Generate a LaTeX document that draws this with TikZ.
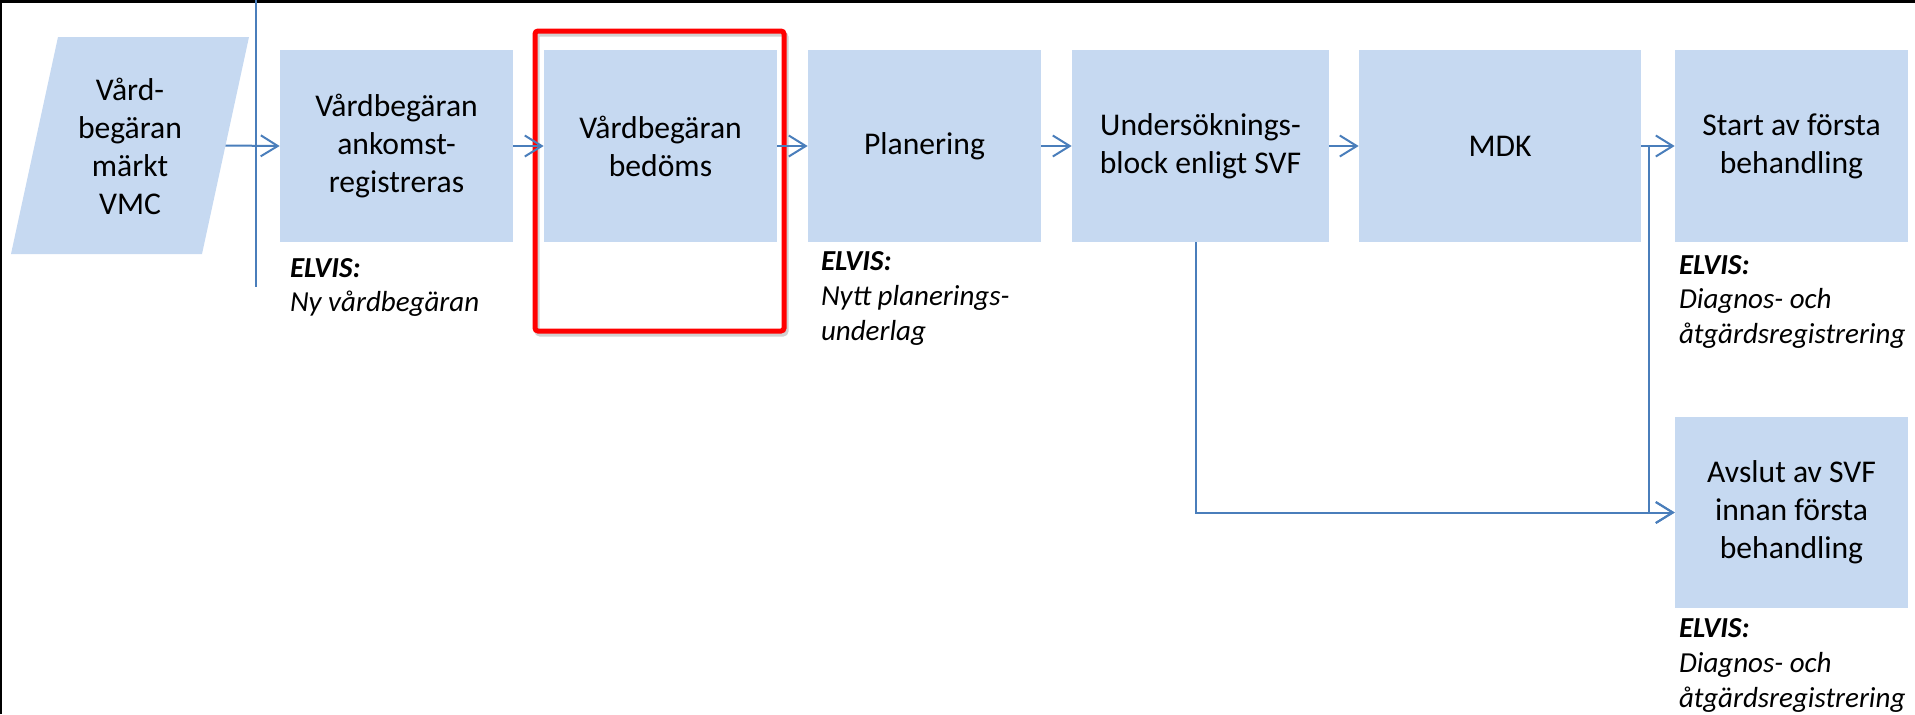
\documentclass[tikz,border=0pt]{standalone}
\usepackage{fontspec}
\setmainfont{Carlito}
\usetikzlibrary{calc}
\usetikzlibrary{arrows.meta}

\definecolor{boxblue}{HTML}{C6D9F1}
\definecolor{linkblue}{HTML}{4A7EBB}

\tikzset{
  stage/.style={fill=boxblue, minimum height=3.84cm, minimum width=4.66cm, inner sep=0pt,
    align=center, font=\fontsize{18}{21.6}\selectfont},
  elvis/.style={anchor=north west, align=left, inner sep=0pt,
    font=\fontsize{16.5}{19.8}\selectfont\itshape},
  flow/.style={draw=linkblue, line width=0.04cm, -{Straight Barb[length=0.34cm,width=0.42cm]}},
}

\begin{document}
\begin{tikzpicture}[x=0.02cm, y=-0.02cm]
        \useasboundingbox (0,0) rectangle (1915,714);

        % Frame at the top and on the left
        \draw[line width=0.06cm] (1,714) -- (1,1.5) -- (1915,1.5);

        % Incoming request (parallelogram)
        \coordinate (P1) at (58,37);
        \coordinate (P2) at (249,37);
        \coordinate (P3) at (202,254);
        \coordinate (P4) at (11,254);
        \fill[boxblue] (P1) -- (P2) -- (P3) -- (P4) -- cycle;
        \node[align=center, inner sep=0pt, font=\fontsize{18}{21.6}\selectfont] (vmc) at (130,146)
          {Vård-\\begäran\\märkt\\VMC};
        \coordinate (vmc-e) at ($(P2)!0.5!(P3)$);

        % Lane divider
        \coordinate (div-top) at (256,0);
        \coordinate (div-bot) at (256,287);
        \draw[linkblue, line width=0.04cm] (div-top) -- (div-bot);

        % Process steps
        \node[stage] (ank) at (396.5,146) {Vårdbegäran\\ankomst-\\registreras};
        \node[stage] (bed) at (660.5,146) {Vårdbegäran\\bedöms};
        \node[stage] (plan) at (924.5,146) {Planering};
        \node[stage, minimum width=5.14cm] (unders) at (1200.5,146) {Undersöknings-\\block enligt SVF};
        \node[stage, minimum width=5.64cm] (mdk) at (1500,146) {MDK};
        \node[stage] (start) at (1791.5,146) {Start av första\\behandling};
        \node[stage] (avslut) at (1791.5,512.5) {Avslut av SVF\\innan första\\behandling};

        % ELVIS notes
        \node[elvis, xshift=0.2cm, yshift=-0.31cm] (ank-note) at (ank.south west) {\textbf{ELVIS:}\\Ny vårdbegäran};
        \node[elvis, xshift=0.26cm, yshift=-0.18cm] (plan-note) at (plan.south west) {\textbf{ELVIS:}\\Nytt planerings-\\underlag};
        \node[elvis, xshift=0.08cm, yshift=-0.25cm] (start-note) at (start.south west) {\textbf{ELVIS:}\\Diagnos- och\\åtgärdsregistrering};
        \node[elvis, xshift=0.08cm, yshift=-0.19cm] (avslut-note) at (avslut.south west) {\textbf{ELVIS:}\\Diagnos- och\\åtgärdsregistrering};

        % Highlight round the assessed step
        \coordinate (R1) at (535,31);
        \coordinate (R2) at (784,331);
        \draw[black!40, opacity=0.45, line width=0.1cm, rounded corners=0.06cm]
          ([shift={(2,3)}]R1) rectangle ([shift={(2,3)}]R2);
        \draw[red, line width=0.1cm, rounded corners=0.06cm] (R1) rectangle (R2);

        % Connectors
        \coordinate (split) at (1649,146);
        \draw[flow] (vmc-e) -- (ank.west);
        \draw[flow] (ank.east) -- (bed.west);
        \draw[flow] (bed.east) -- (plan.west);
        \draw[flow] (plan.east) -- (unders.west);
        \draw[flow] (unders.east) -- (mdk.west);
        \draw[flow] (mdk.east) -- (start.west);
        \draw[flow] (mdk.east) -- (split) |- (avslut.west);
        \draw[flow] ([xshift=-0.09cm]unders.south) |- (avslut.west);
      \end{tikzpicture}
\end{document}
